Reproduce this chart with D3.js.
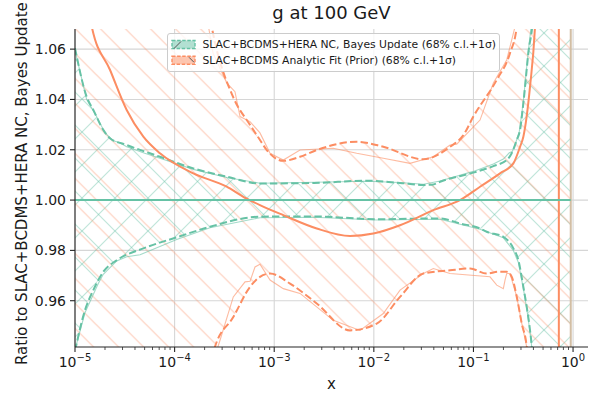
<!DOCTYPE html>
<html>
<head>
<meta charset="utf-8">
<script src="https://cdn.jsdelivr.net/npm/d3@7"></script>
<style>
  body { margin: 0; background: #fff; }
  text { font-family: "DejaVu Sans", sans-serif; fill: #1a1a1a; }
</style>
</head>
<body>
<div id="chart"></div>
<script>

// ---- data: [log10(x), ratio] ----
const greenUp68 = [[-5.00,1.0604],[-4.883,1.0411],[-4.816,1.0358],[-4.716,1.0279],[-4.649,1.0246],[-4.481,1.0219],[-4.147,1.0172],[-3.812,1.0126],[-3.477,1.0093],[-3.143,1.0066],[-2.60,1.0068],[-2.071,1.0077],[-1.737,1.0068],[-1.503,1.0060],[-1.403,1.0062],[-1.335,1.0073],[-1.001,1.0109],[-0.800,1.0135],[-0.666,1.0159],[-0.616,1.0186],[-0.565,1.0239],[-0.532,1.0279],[-0.499,1.0385],[-0.449,1.0584],[-0.398,1.0750],[-0.30,1.30],[-0.023,1.50]];
const greenLo68 = [[-5.00,0.9400],[-4.900,0.9562],[-4.816,0.9642],[-4.716,0.9715],[-4.581,0.9761],[-4.314,0.9808],[-3.979,0.9852],[-3.645,0.9894],[-3.143,0.9934],[-2.60,0.9935],[-1.971,0.9924],[-1.335,0.9927],[-1.135,0.9907],[-0.934,0.9887],[-0.867,0.9874],[-0.700,0.9854],[-0.599,0.9808],[-0.549,0.9761],[-0.499,0.9655],[-0.465,0.9575],[-0.432,0.9482],[-0.415,0.9416],[-0.30,0.70],[-0.023,0.50]];
const greenUp1s = [[-5.00,1.0595],[-4.883,1.0400],[-4.800,1.0345],[-4.700,1.0268],[-4.620,1.0236],[-4.560,1.0230],[-4.481,1.0212],[-4.300,1.0186],[-4.147,1.0166],[-3.812,1.0122],[-3.477,1.0090],[-3.143,1.0067],[-2.60,1.0071],[-2.071,1.0075],[-1.737,1.0070],[-1.503,1.0063],[-1.335,1.0076],[-1.001,1.0114],[-0.800,1.0143],[-0.700,1.0163],[-0.640,1.0188],[-0.610,1.0193],[-0.580,1.0222],[-0.540,1.0272],[-0.500,1.0390],[-0.450,1.0590],[-0.400,1.0760],[-0.30,1.30]];
const greenLo1s = [[-5.00,0.9405],[-4.900,0.9552],[-4.820,0.9622],[-4.766,0.9668],[-4.716,0.9705],[-4.581,0.9758],[-4.481,0.9775],[-4.347,0.9783],[-3.979,0.9843],[-3.645,0.9890],[-3.143,0.9930],[-2.60,0.9932],[-1.971,0.9921],[-1.335,0.9924],[-0.934,0.9884],[-0.700,0.9850],[-0.600,0.9800],[-0.549,0.9752],[-0.499,0.9648],[-0.465,0.9568],[-0.432,0.9475],[-0.41,0.9400],[-0.30,0.70]];

const orangeUp68 = [[-5.00,1.40],[-3.75,1.10],[-3.628,1.0690],[-3.414,1.0411],[-3.243,1.0299],[-3.143,1.0239],[-3.075,1.0199],[-2.909,1.0156],[-2.741,1.0172],[-2.573,1.0199],[-2.172,1.0232],[-1.905,1.0212],[-1.503,1.0162],[-1.235,1.0212],[-1.101,1.0258],[-1.001,1.0332],[-0.766,1.0478],[-0.633,1.0584],[-0.565,1.0690],[-0.50,1.10],[-0.023,1.40]];
const orangeLo68 = [[-5.00,0.60],[-3.70,0.915],[-3.60,0.9410],[-3.411,0.9535],[-3.243,0.9655],[-3.143,0.9695],[-3.042,0.9708],[-2.841,0.9668],[-2.573,0.9589],[-2.239,0.9482],[-1.971,0.9509],[-1.737,0.9615],[-1.503,0.9708],[-1.235,0.9721],[-1.034,0.9728],[-0.867,0.9708],[-0.750,0.9715],[-0.666,0.9715],[-0.616,0.9695],[-0.565,0.9615],[-0.515,0.9509],[-0.465,0.9416],[-0.40,0.90],[-0.023,0.60]];
const orangeUp1s = [[-3.70,1.08],[-3.660,1.0690],[-3.614,1.0584],[-3.477,1.0466],[-3.394,1.0431],[-3.343,1.0332],[-3.243,1.0312],[-3.143,1.0267],[-3.042,1.0186],[-2.909,1.0159],[-2.741,1.0199],[-2.407,1.0206],[-2.172,1.0186],[-1.905,1.0166],[-1.637,1.0146],[-1.403,1.0172],[-1.235,1.0219],[-1.168,1.0222],[-0.934,1.0318],[-0.800,1.0465],[-0.666,1.0557],[-0.582,1.0690],[-0.55,1.08]];
const orangeLo1s = [[-3.62,0.935],[-3.544,0.9443],[-3.411,0.9615],[-3.293,0.9675],[-3.243,0.9677],[-3.193,0.9734],[-3.143,0.9745],[-3.042,0.9682],[-2.909,0.9648],[-2.741,0.9629],[-2.407,0.9522],[-2.139,0.9482],[-1.905,0.9549],[-1.737,0.9642],[-1.503,0.9708],[-1.403,0.9728],[-1.235,0.9708],[-0.834,0.9695],[-0.766,0.9662],[-0.700,0.9648],[-0.683,0.9682],[-0.666,0.9708],[-0.633,0.9708],[-0.565,0.9615],[-0.515,0.9510],[-0.465,0.9416],[-0.44,0.93]];
const orangeCentral = [[-4.90,1.100],[-4.832,1.0690],[-4.649,1.0518],[-4.481,1.0358],[-4.314,1.0252],[-4.147,1.0186],[-3.812,1.0106],[-3.477,1.0053],[-3.310,1.0013],[-3.143,0.9980],[-2.909,0.9940],[-2.573,0.9887],[-2.239,0.9857],[-2.005,0.9867],[-1.737,0.9900],[-1.403,0.9960],[-1.135,1.0000],[-0.934,1.0053],[-0.733,1.0106],[-0.599,1.0146],[-0.532,1.0212],[-0.499,1.0252],[-0.432,1.0451],[-0.382,1.0690],[-0.35,1.10]];
const greenCentral = [[-5.00,1.0],[-0.023,1.0]];

const orangePoleX = 0.72;    // where the orange central line jumps
const gridEndX = 0.948;      // last x of the grid

const xTicks = [1e-5, 1e-4, 1e-3, 1e-2, 1e-1, 1];
const xTickExp = ["\u22125", "\u22124", "\u22123", "\u22122", "\u22121", "0"];
const yTicks = [0.96, 0.98, 1.00, 1.02, 1.04, 1.06];

const legendLabels = ["SLAC+BCDMS+HERA NC, Bayes Update (68% c.l.+1\u03c3)",
                      "SLAC+BCDMS Analytic Fit (Prior) (68% c.l.+1\u03c3)"];

const green = "#66c2a5", orange = "#fc8d62";

// ---- layout ----
const W = 590, H = 398;
const L = 75, R = 588, T = 29, B = 347;

const svg = d3.select("#chart").append("svg")
    .attr("width", W).attr("height", H);

const x = d3.scaleLog().domain([1e-5, Math.pow(10, 0.15)]).range([L, R]);
const y = d3.scaleLinear().domain([0.9416, 1.068]).range([B, T]);

const px = d => x(Math.pow(10, d[0]));
const py = d => y(d[1]);

const defs = svg.append("defs");

defs.append("clipPath").attr("id", "plot")
    .append("rect").attr("x", L).attr("y", T).attr("width", R - L).attr("height", B - T);

// hatch patterns
function hatch(id, dir, S, off, color) {
    const p = defs.append("pattern").attr("id", id)
        .attr("patternUnits", "userSpaceOnUse")
        .attr("x", off).attr("y", 0)
        .attr("width", S).attr("height", S);
    const d = dir === "\\"
        ? `M-2,-2L${S + 2},${S + 2}M-2,${S - 2}L2,${S + 2}M${S - 2},-2L${S + 2},2`
        : `M-2,${S + 2}L${S + 2},-2M-2,2L2,-2M${S - 2},${S + 2}L${S + 2},${S - 2}`;
    p.append("path").attr("d", d)
        .attr("stroke", color).attr("stroke-width", 1.2)
        .attr("stroke-opacity", 0.42).attr("fill", "none");
}
hatch("hO", "\\", 25, 21.6, orange);
hatch("hG1", "/", 33, 16, green);
hatch("hG2", "\\", 33, 16, green);

// band clips: below upper curve, above lower curve
function bandClip(id, up, lo) {
    const aUp = d3.area().x(px).y0(B + 200).y1(py).curve(d3.curveMonotoneX);
    const aLo = d3.area().x(px).y0(py).y1(T - 200).curve(d3.curveMonotoneX);
    defs.append("clipPath").attr("id", id + "u").append("path").attr("d", aUp(up));
    defs.append("clipPath").attr("id", id + "l").append("path").attr("d", aLo(lo));
}
bandClip("cg", greenUp68, greenLo68);
bandClip("co", orangeUp68, orangeLo68);

// ---- grid ----
const grid = svg.append("g");
grid.selectAll("line.gx").data(xTicks).enter().append("line")
    .attr("x1", d => x(d)).attr("x2", d => x(d))
    .attr("y1", T).attr("y2", B)
    .attr("stroke", "#d6d6d6").attr("stroke-width", 1.1);
grid.selectAll("line.gy").data(yTicks).enter().append("line")
    .attr("x1", L).attr("x2", R)
    .attr("y1", d => y(d)).attr("y2", d => y(d))
    .attr("stroke", "#d6d6d6").attr("stroke-width", 1.1);

const plot = svg.append("g").attr("clip-path", "url(#plot)");

// hatched bands
function hatchedBand(id, fills) {
    const g = plot.append("g").attr("clip-path", `url(#${id}u)`)
        .append("g").attr("clip-path", `url(#${id}l)`);
    fills.forEach(f => g.append("rect")
        .attr("x", L).attr("y", T).attr("width", x(gridEndX) - L).attr("height", B - T)
        .attr("fill", `url(#${f})`));
}
hatchedBand("cg", ["hG1", "hG2"]);
hatchedBand("co", ["hO"]);

const lin = d3.line().x(px).y(py);
const smooth = d3.line().x(px).y(py).curve(d3.curveMonotoneX);

// thin 1 sigma lines
[[greenUp1s, green], [greenLo1s, green], [orangeUp1s, orange], [orangeLo1s, orange]].forEach(s => {
    plot.append("path").attr("d", lin(s[0]))
        .attr("fill", "none").attr("stroke", s[1])
        .attr("stroke-width", 1.1).attr("stroke-opacity", 0.6);
});

// dashed 68% lines
[[greenUp68, green], [greenLo68, green], [orangeUp68, orange], [orangeLo68, orange]].forEach(s => {
    plot.append("path").attr("d", smooth(s[0]))
        .attr("fill", "none").attr("stroke", s[1])
        .attr("stroke-width", 2).attr("stroke-dasharray", "7.4,3.2");
});

// vertical edges
plot.append("line")
    .attr("x1", x(gridEndX)).attr("x2", x(gridEndX)).attr("y1", T).attr("y2", B)
    .attr("stroke", "#d2bea4").attr("stroke-width", 2);
plot.append("line")
    .attr("x1", x(orangePoleX)).attr("x2", x(orangePoleX)).attr("y1", T).attr("y2", B)
    .attr("stroke", orange).attr("stroke-width", 2);

// central lines
plot.append("path").attr("d", smooth(orangeCentral))
    .attr("fill", "none").attr("stroke", orange).attr("stroke-width", 2);
plot.append("path").attr("d", lin(greenCentral))
    .attr("fill", "none").attr("stroke", green).attr("stroke-width", 2);

// ---- axes ----
const ax = svg.append("g");
ax.append("line").attr("x1", L).attr("x2", L).attr("y1", T).attr("y2", B)
    .attr("stroke", "#262626").attr("stroke-width", 1.1);
ax.append("line").attr("x1", L).attr("x2", R).attr("y1", B).attr("y2", B)
    .attr("stroke", "#262626").attr("stroke-width", 1.1);

// x ticks
ax.selectAll("line.xt").data(xTicks).enter().append("line")
    .attr("x1", d => x(d)).attr("x2", d => x(d))
    .attr("y1", B).attr("y2", B + 5)
    .attr("stroke", "#262626").attr("stroke-width", 1.1);
const minor = [];
for (let e = -5; e <= 0; e++) for (let k = 2; k <= 9; k++) {
    const v = k * Math.pow(10, e);
    if (v < x.domain()[1]) minor.push(v);
}
ax.selectAll("line.xm").data(minor).enter().append("line")
    .attr("x1", d => x(d)).attr("x2", d => x(d))
    .attr("y1", B).attr("y2", B + 3)
    .attr("stroke", "#262626").attr("stroke-width", 0.8);

const xl = ax.selectAll("text.xl").data(xTicks).enter().append("text")
    .attr("x", d => x(d)).attr("y", B + 20)
    .attr("text-anchor", "middle").style("font-size", "14px");
xl.append("tspan").text("10");
xl.append("tspan").attr("dy", -6).style("font-size", "10px")
    .text((d, i) => xTickExp[i]);

// y ticks
ax.selectAll("line.yt").data(yTicks).enter().append("line")
    .attr("x1", L - 5).attr("x2", L)
    .attr("y1", d => y(d)).attr("y2", d => y(d))
    .attr("stroke", "#262626").attr("stroke-width", 1.1);
ax.selectAll("text.yl").data(yTicks).enter().append("text")
    .attr("x", L - 9).attr("y", d => y(d) + 5)
    .attr("text-anchor", "end").style("font-size", "14px")
    .text(d => d.toFixed(2));

// labels
svg.append("text").attr("x", (L + R) / 2).attr("y", 389)
    .attr("text-anchor", "middle").style("font-size", "15px").text("x");
svg.append("text").attr("transform", "translate(27,365) rotate(-90)")
    .style("font-size", "15px")
    .text("Ratio to SLAC+BCDMS+HERA NC, Bayes Update");
svg.append("text").attr("x", (L + R) / 2).attr("y", 19)
    .attr("text-anchor", "middle").style("font-size", "18px").text("g at 100 GeV");

// ---- legend ----
const lg = svg.append("g");
lg.append("rect").attr("x", 167.5).attr("y", 33.5).attr("width", 332).attr("height", 38)
    .attr("rx", 2.5).attr("fill", "#fff").attr("fill-opacity", 0.8)
    .attr("stroke", "#cccccc").attr("stroke-width", 1);
[[green, 40.5, "/"], [orange, 56.3, "\\"]].forEach((s, i) => {
    lg.append("rect").attr("x", 172).attr("y", s[1]).attr("width", 23).attr("height", 8)
        .attr("fill", s[0]).attr("fill-opacity", 0.5)
        .attr("stroke", s[0]).attr("stroke-width", 1.4).attr("stroke-dasharray", "3.5,1.6");
    if (s[2] === "/")
        lg.append("line").attr("x1", 174).attr("y1", s[1] + 8).attr("x2", 181).attr("y2", s[1] + 1)
            .attr("stroke", "#555").attr("stroke-width", 1);
    else
        lg.append("line").attr("x1", 189).attr("y1", s[1] + 1).attr("x2", 194).attr("y2", s[1] + 6)
            .attr("stroke", "#555").attr("stroke-width", 1);
    lg.append("text").attr("x", 202.5).attr("y", s[1] + 7.3)
        .style("font-size", "10.8px").text(legendLabels[i]);
});

</script>
</body>
</html>
